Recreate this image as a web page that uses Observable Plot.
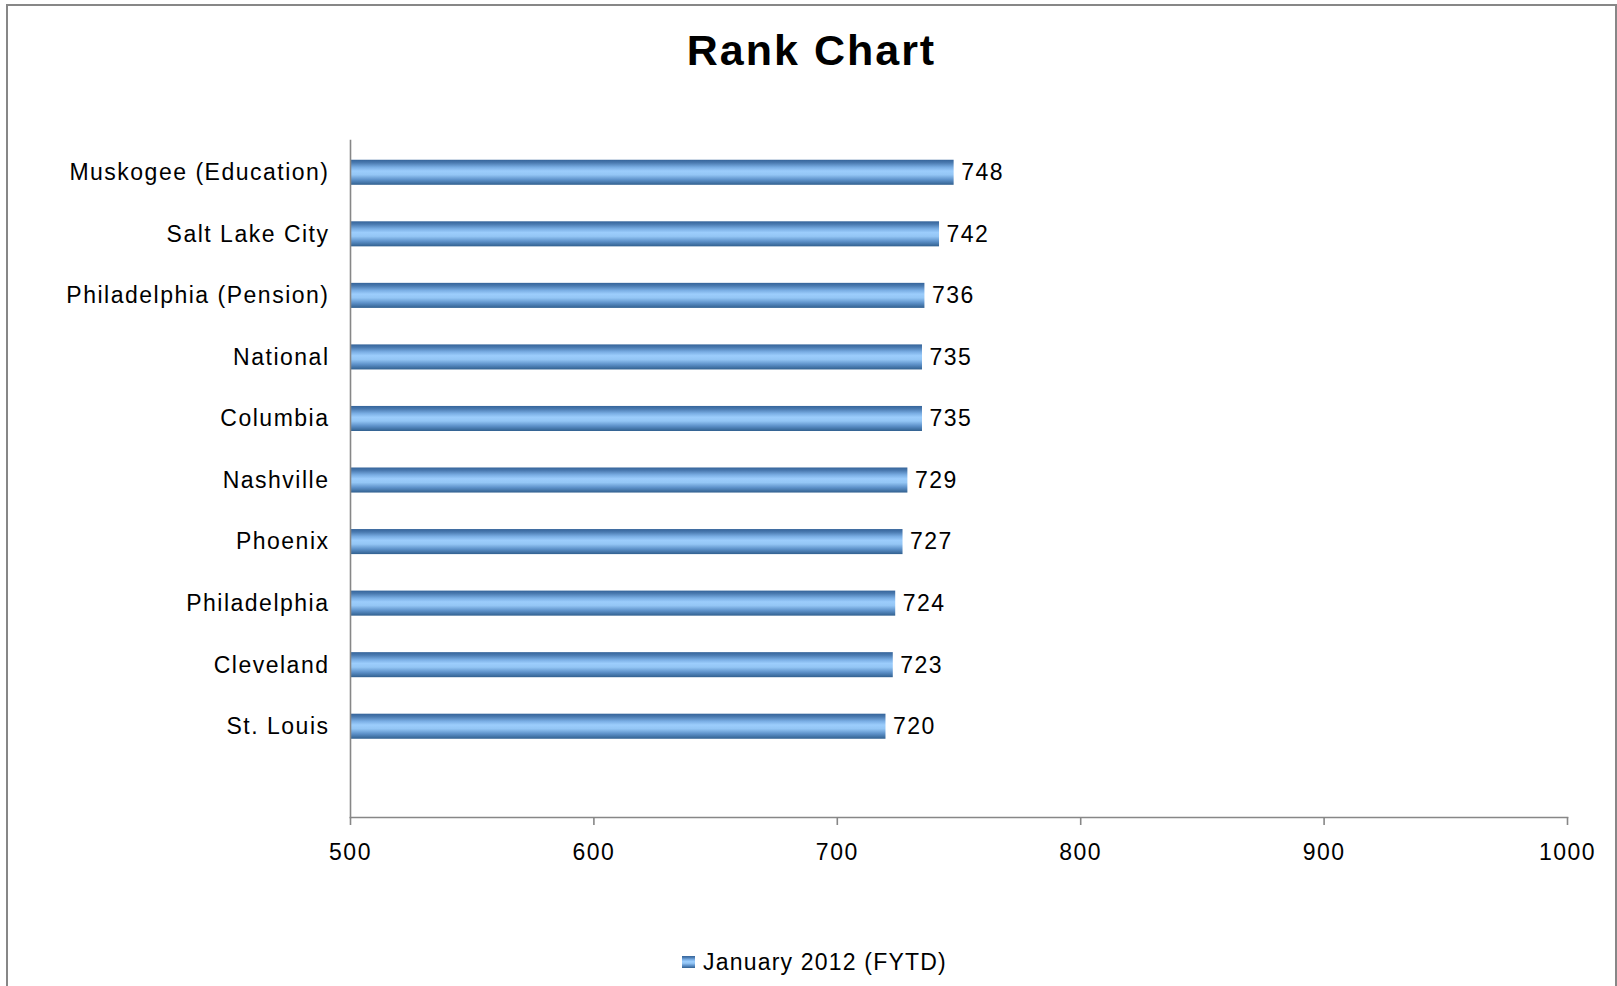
<!DOCTYPE html>
<html>
<head>
<meta charset="utf-8">
<script src="https://cdn.jsdelivr.net/npm/d3@7"></script>
<script src="https://cdn.jsdelivr.net/npm/@observablehq/plot@0.6"></script>
<style>
  html, body { margin: 0; padding: 0; background: #fff; overflow: hidden; }
  #frame { position: absolute; left: 6px; top: 4px; width: 1607px; height: 1000px;
           border: 2px solid #878787; background: #fff; font-family: "Liberation Sans", Arial, sans-serif; }
  #title { position: absolute; top: 23px; left: 0; width: 100%; text-align: center;
           font-weight: bold; font-size: 43px; line-height: 43px; letter-spacing: 2px; color: #000; }
  #chart { position: absolute; top: 94px; left: 0; }
  #legend { position: absolute; top: 944px; left: 674px; height: 24px; display: flex; align-items: center;
            font-size: 23px; letter-spacing: 1.2px; color: #000; }
  #legend .sw { width: 13px; height: 12px; margin-right: 8px;
                background: linear-gradient(to bottom, #35649a 0%, #4a7ab0 12%, #7aaee4 30%, #9ccdfc 45%, #94c6f5 60%, #5d91c9 80%, #31608f 100%); }
</style>
</head>
<body>
<div id="frame">
  <div id="title"></div>
  <div id="chart"></div>
  <div id="legend"><div class="sw"></div><span id="legendText"></span></div>
</div>
<script>
const chartTitle = "Rank Chart";
const seriesName = "January 2012 (FYTD)";
const categories = ["Muskogee (Education)", "Salt Lake City", "Philadelphia (Pension)", "National", "Columbia", "Nashville", "Phoenix", "Philadelphia", "Cleveland", "St. Louis"];
const values = [748, 742, 736, 735, 735, 729, 727, 724, 723, 720];
const xTicks = [500, 600, 700, 800, 900, 1000];

document.getElementById("title").textContent = chartTitle;
document.getElementById("legendText").textContent = seriesName;

const data = categories.map((name, i) => ({name, value: values[i]}));
const xMin = xTicks[0], xMax = xTicks[xTicks.length - 1];

const defs = () => {
  const g = d3.create("svg:defs");
  const lg = g.append("linearGradient").attr("id", "barGrad")
    .attr("x1", 0).attr("y1", 0).attr("x2", 0).attr("y2", 1);
  [[0, "#35649a"], [0.12, "#4a7ab0"], [0.3, "#7aaee4"], [0.45, "#9ccdfc"], [0.6, "#94c6f5"], [0.8, "#5d91c9"], [1, "#31608f"]]
    .forEach(([o, c]) => lg.append("stop").attr("offset", o).attr("stop-color", c));
  return g.node();
};

const plot = Plot.plot({
  width: 1607,
  height: 790,
  marginLeft: 342,
  marginRight: 48,
  marginTop: 40,
  marginBottom: 73,
  style: {fontFamily: "Liberation Sans, Arial, sans-serif", letterSpacing: "1.5px", background: "#fff"},
  x: {domain: [xMin, xMax], label: null},
  y: {domain: categories, range: [41.5, 657], paddingInner: 0.593, paddingOuter: 0.2965, round: false, label: null},
  marks: [
    defs,
    Plot.barX(data, {x1: () => xMin, x2: "value", y: "name", fill: "url(#barGrad)"}),
    Plot.text(data, {x: "value", y: "name", text: d => String(d.value), dx: 7, textAnchor: "start", fontSize: 23, fill: "#000"}),
    Plot.frame({anchor: "left", stroke: "#878787", strokeWidth: 1.6}),
    Plot.frame({anchor: "bottom", stroke: "#878787", strokeWidth: 1.6}),
    Plot.axisX({ticks: xTicks, tickFormat: d => String(d), tickSize: 8, tickPadding: 18, fontSize: 23, stroke: "#878787", fill: "#000", strokeWidth: 1.6, label: null}),
    Plot.axisY({tickSize: 0, tickPadding: 21, fontSize: 23, fill: "#000", label: null})
  ]
});
document.getElementById("chart").appendChild(plot);
</script>
</body>
</html>
